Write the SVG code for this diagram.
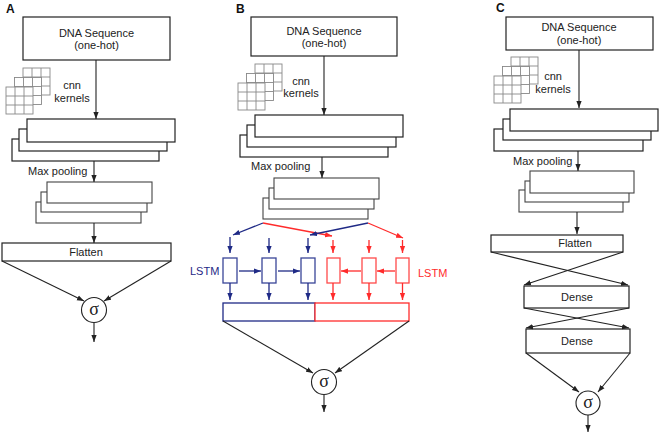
<svg xmlns="http://www.w3.org/2000/svg" width="661" height="436" viewBox="0 0 661 436">
<defs>
<style>
.bx{fill:#fff;stroke:#222;stroke-width:1.2}
.pl{fill:#fff;stroke:#444;stroke-width:1.1}
.t{font-family:"Liberation Sans",Arial,sans-serif;font-size:11px;fill:#222}
.c{text-anchor:middle}
.lb{font-family:"Liberation Sans",Arial,sans-serif;font-size:12px;font-weight:bold;fill:#111}
.k{stroke:#222;stroke-width:1.1;fill:none}
.kb{stroke:#1f2a86;stroke-width:1.3;fill:none}
.kr{stroke:#ff2b2b;stroke-width:1.3;fill:none}
.ab{marker-end:url(#ahk)}
.abb{marker-end:url(#ahb)}
.abr{marker-end:url(#ahr)}
.cb{fill:#fff;stroke:#3a4698;stroke-width:1.3}
.cr{fill:#fff;stroke:#ff4a4a;stroke-width:1.3}
.sig{font-family:"Liberation Serif","DejaVu Serif",serif;font-size:18px;fill:#222;text-anchor:middle}
.g{fill:#fff;stroke:#888;stroke-width:0.9}
</style>
<marker id="ahk" viewBox="0 0 8 6" refX="8" refY="3" markerWidth="7" markerHeight="6" markerUnits="userSpaceOnUse" orient="auto"><path d="M0,0 L8,3 L0,6 z" fill="#222"/></marker>
<marker id="ahb" viewBox="0 0 8 6" refX="8" refY="3" markerWidth="7" markerHeight="6" markerUnits="userSpaceOnUse" orient="auto"><path d="M0,0 L8,3 L0,6 z" fill="#1f2a86"/></marker>
<marker id="ahr" viewBox="0 0 8 6" refX="8" refY="3" markerWidth="7" markerHeight="6" markerUnits="userSpaceOnUse" orient="auto"><path d="M0,0 L8,3 L0,6 z" fill="#ff2b2b"/></marker>
<g id="grid"><rect class="g" x="0" y="0" width="27" height="27"/><path d="M9,0V27M18,0V27M0,9H27M0,18H27" stroke="#888" stroke-width="0.9"/></g>
<g id="kern"><use href="#grid" x="17" y="-19"/><use href="#grid" x="8.5" y="-9.5"/><use href="#grid" x="0" y="0"/></g>
</defs>
<rect width="661" height="436" fill="#fff"/>

<!-- Panel A -->
<g id="panelA">
<text class="lb" x="6" y="13">A</text>
<g id="A-dna"><rect class="bx" x="23" y="17" width="147" height="43"/><text class="t c" x="96.5" y="37">DNA Sequence</text><text class="t c" x="96.5" y="49">(one-hot)</text></g>
<g id="A-kernels"><use href="#kern" x="6" y="87"/><text class="t c" x="72" y="89">cnn</text><text class="t c" x="72" y="102">kernels</text></g>
<g id="A-conv"><rect class="bx" x="12" y="139" width="147" height="22"/><rect class="bx" x="19" y="129" width="148" height="22"/><rect class="bx" x="27" y="119" width="148" height="23"/></g>
<text class="t" x="28" y="175">Max pooling</text>
<g id="A-pool"><rect class="pl" x="36" y="202" width="105" height="21"/><rect class="pl" x="41" y="192" width="106" height="20"/><rect class="pl" x="47" y="182" width="105" height="21"/></g>
<g id="A-flatten"><rect class="bx" x="2" y="243" width="169" height="18"/><text class="t c" x="86" y="256">Flatten</text></g>
<g id="A-sigma"><circle cx="94" cy="310" r="12.5" fill="#fff" stroke="#222" stroke-width="1.1"/><text class="sig" x="94" y="315">σ</text></g>
</g>

<!-- Panel B -->
<g id="panelB">
<text class="lb" x="236" y="13">B</text>
<g id="B-dna"><rect class="bx" x="251" y="17" width="146" height="39"/><text class="t c" x="324" y="35">DNA Sequence</text><text class="t c" x="324" y="47">(one-hot)</text></g>
<g id="B-kernels"><use href="#kern" x="238" y="83"/><text class="t c" x="301" y="85">cnn</text><text class="t c" x="301" y="97">kernels</text></g>
<g id="B-conv"><rect class="bx" x="240" y="135" width="148" height="22"/><rect class="bx" x="247" y="125" width="149" height="22"/><rect class="bx" x="255" y="115" width="148" height="22"/></g>
<text class="t" x="251" y="170">Max pooling</text>
<g id="B-pool"><rect class="pl" x="263" y="198" width="105" height="21"/><rect class="pl" x="269" y="188" width="105" height="21"/><rect class="pl" x="274" y="178" width="105" height="21"/></g>
<text x="190" y="275" font-family="Liberation Sans,Arial,sans-serif" font-size="11" fill="#1f2a86">LSTM</text>
<text x="418" y="277" font-family="Liberation Sans,Arial,sans-serif" font-size="11" fill="#ff2b2b">LSTM</text>
<g id="B-lstm-f1"><rect class="cb" x="223" y="258" width="14" height="25"/></g>
<g id="B-lstm-f2"><rect class="cb" x="262" y="258" width="14" height="25"/></g>
<g id="B-lstm-f3"><rect class="cb" x="301" y="258" width="14" height="25"/></g>
<g id="B-lstm-r1"><rect class="cr" x="327" y="258" width="13" height="25"/></g>
<g id="B-lstm-r2"><rect class="cr" x="362" y="258" width="14" height="25"/></g>
<g id="B-lstm-r3"><rect class="cr" x="396" y="258" width="13" height="25"/></g>
<g id="B-concat"><rect x="223" y="303" width="92" height="18" fill="#fff" stroke="#1f2a86" stroke-width="1.3"/><rect x="315" y="303" width="94" height="18" fill="#fff" stroke="#ff2b2b" stroke-width="1.3"/></g>
<g id="B-sigma"><circle cx="324" cy="382" r="12.5" fill="#fff" stroke="#222" stroke-width="1.1"/><text class="sig" x="324" y="387">σ</text></g>
</g>

<!-- Panel C -->
<g id="panelC">
<text class="lb" x="496" y="12">C</text>
<g id="C-dna"><rect class="bx" x="506" y="17" width="147" height="33"/><text class="t c" x="579" y="31">DNA Sequence</text><text class="t c" x="579" y="44">(one-hot)</text></g>
<g id="C-kernels"><use href="#kern" x="494" y="76"/><text class="t c" x="553" y="80">cnn</text><text class="t c" x="553" y="93">kernels</text></g>
<g id="C-conv"><rect class="bx" x="494" y="129" width="149" height="22"/><rect class="bx" x="503" y="119" width="148" height="21"/><rect class="bx" x="510" y="109" width="148" height="22"/></g>
<text class="t" x="513" y="165">Max pooling</text>
<g id="C-pool"><rect class="pl" x="519" y="190" width="104" height="22"/><rect class="pl" x="525" y="181" width="104" height="21"/><rect class="pl" x="530" y="171" width="104" height="22"/></g>
<g id="C-flatten"><rect class="bx" x="491" y="235" width="132" height="17"/><text class="t c" x="575" y="247">Flatten</text></g>
<g id="C-dense1"><rect class="bx" x="524" y="286" width="105" height="22"/><text class="t c" x="577" y="301">Dense</text></g>
<g id="C-dense2"><rect class="bx" x="526" y="329" width="104" height="24"/><text class="t c" x="577" y="345">Dense</text></g>
<g id="C-sigma"><circle cx="588" cy="403" r="12" fill="#fff" stroke="#222" stroke-width="1.1"/><text class="sig" x="588" y="408">σ</text></g>
</g>

<g id="connectors">
<!-- A -->
<line class="k ab" x1="96" y1="60" x2="96" y2="119"/>
<line class="k ab" x1="94" y1="161" x2="94" y2="182"/>
<line class="k ab" x1="94" y1="223" x2="94" y2="243"/>
<line class="k ab" x1="2" y1="261" x2="84" y2="301"/>
<line class="k ab" x1="171" y1="261" x2="104" y2="301"/>
<line class="k ab" x1="94" y1="323" x2="94" y2="342"/>
<!-- B -->
<line class="k ab" x1="324" y1="56" x2="324" y2="115"/>
<line class="k ab" x1="322" y1="157" x2="322" y2="178"/>
<line class="kb abb" x1="263" y1="223" x2="233" y2="235"/>
<line class="kr abr" x1="263" y1="223" x2="332" y2="236"/>
<line class="kb abb" x1="368" y1="223" x2="310" y2="235"/>
<line class="kr abr" x1="368" y1="223" x2="403" y2="238"/>
<line class="kb abb" x1="230" y1="237" x2="230" y2="253"/>
<line class="kb abb" x1="269" y1="238" x2="269" y2="253"/>
<line class="kb abb" x1="308" y1="238" x2="308" y2="253"/>
<line class="kr abr" x1="333" y1="240" x2="333" y2="253"/>
<line class="kr abr" x1="369" y1="240" x2="369" y2="253"/>
<line class="kr abr" x1="402.5" y1="240" x2="402.5" y2="253"/>
<line class="kb abb" x1="239" y1="271" x2="261" y2="271"/>
<line class="kb abb" x1="278" y1="271" x2="300" y2="271"/>
<line class="kr abr" x1="361" y1="271" x2="341" y2="271"/>
<line class="kr abr" x1="395" y1="271" x2="377" y2="271"/>
<line class="kb abb" x1="230" y1="283" x2="230" y2="300"/>
<line class="kb abb" x1="269" y1="283" x2="269" y2="300"/>
<line class="kb abb" x1="308" y1="283" x2="308" y2="300"/>
<line class="kr abr" x1="333" y1="283" x2="333" y2="300"/>
<line class="kr abr" x1="369" y1="283" x2="369" y2="300"/>
<line class="kr abr" x1="402.5" y1="283" x2="402.5" y2="300"/>
<line class="k ab" x1="223" y1="321" x2="313" y2="373"/>
<line class="k ab" x1="409" y1="321" x2="335" y2="373"/>
<line class="k ab" x1="324" y1="395" x2="324" y2="412"/>
<!-- C -->
<line class="k ab" x1="579" y1="50" x2="579" y2="108"/>
<line class="k ab" x1="578" y1="151" x2="578" y2="171"/>
<line class="k ab" x1="577" y1="212" x2="577" y2="234"/>
<line class="k ab" x1="491" y1="252" x2="628" y2="285"/>
<line class="k ab" x1="623" y1="252" x2="524" y2="285"/>
<line class="k ab" x1="524" y1="308" x2="629" y2="328"/>
<line class="k ab" x1="629" y1="308" x2="526" y2="328"/>
<line class="k ab" x1="526" y1="353" x2="579" y2="392"/>
<line class="k ab" x1="630" y1="353" x2="598" y2="392"/>
<line class="k ab" x1="588" y1="415" x2="588" y2="432"/>
</g>
</svg>
